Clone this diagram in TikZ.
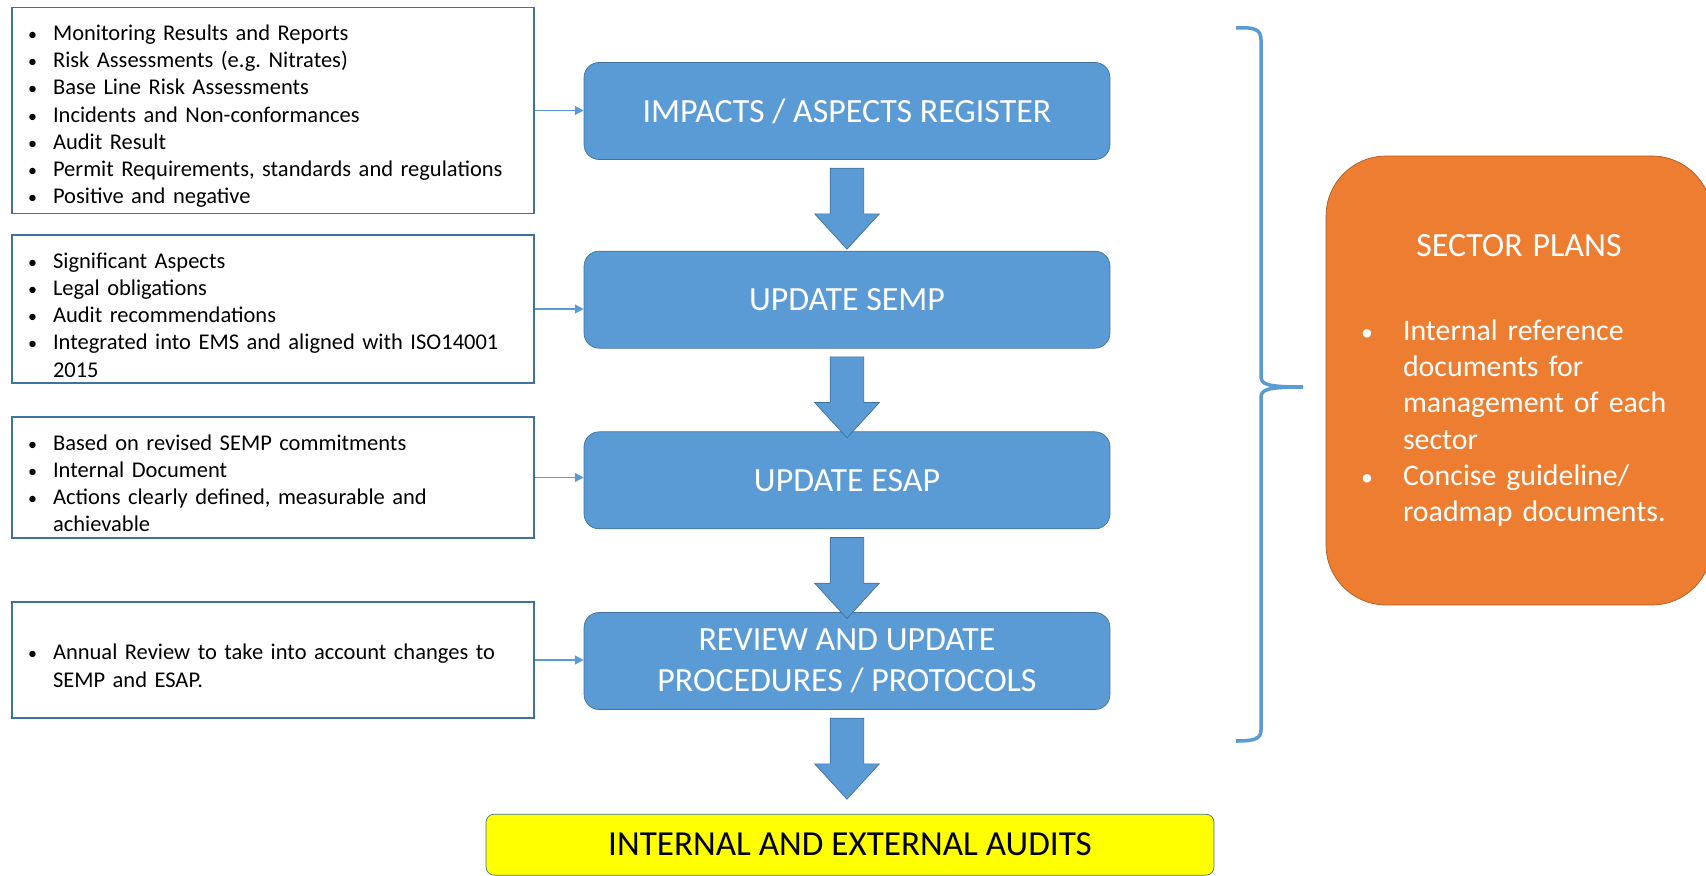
\documentclass[tikz,border=0pt]{standalone}
\usepackage{fontspec}
\setmainfont{Carlito}
\usepackage{tikz}
\usetikzlibrary{shapes.arrows,arrows.meta,positioning,calc}
\definecolor{semsBlue}{HTML}{5B9BD5}
\definecolor{semsBlueDark}{HTML}{41719C}
\definecolor{semsOrange}{HTML}{ED7D31}
\definecolor{semsOrangeDark}{HTML}{AE5A21}
\definecolor{semsYellow}{HTML}{FFFF00}
\newcommand{\itm}{\par\leftskip=0.5cm\noindent\llap{\makebox[0.5cm][l]{\scalebox{0.8}{\textbullet}}}}
\newcommand{\oitm}{\par\leftskip=0.84cm\noindent\llap{\makebox[0.84cm][l]{\scalebox{0.8}{\textbullet}}}}

\begin{document}
\begin{tikzpicture}[x=0.02cm, y=-0.02cm]
\tikzset{
  src/.style={rectangle, draw=semsBlueDark, line width=0.8pt, fill=white,
              text width=9.8cm, inner xsep=0.32cm, align=left, font=\fontsize{12.8}{15.5}\selectfont},
  stp/.style={rectangle, rounded corners=0.3cm, draw=semsBlueDark, fill=semsBlue, text=white,
              minimum width=10.52cm, minimum height=1.94cm, align=center, font=\fontsize{19.3}{23.3}\selectfont},
  aud/.style={rectangle, rounded corners=0.16cm, draw=semsBlueDark, fill=semsYellow,
              minimum width=14.56cm, minimum height=1.22cm, font=\fontsize{20}{24}\selectfont},
  sec/.style={rectangle, rounded corners=1.2cm, draw=semsOrangeDark, fill=semsOrange, text=white,
              minimum width=7.72cm, minimum height=8.98cm, text width=6.32cm, inner xsep=0.7cm,
              align=left, font=\fontsize{17}{20.6}\selectfont},
  lk/.style={-{Triangle[length=5pt,width=5pt]}, draw=semsBlue, line width=0.8pt},
  ba/.style={single arrow, draw=semsBlueDark, fill=semsBlue, minimum height=1.62cm,
             single arrow head extend=0.31cm, single arrow tip angle=85, inner xsep=0pt, inner ysep=0.33cm,
             rotate=-90, anchor=tail},
  brc/.style={draw=semsBlue, line width=2pt}
}
\useasboundingbox (0,0) rectangle (1706,875);

% Main steps
\node[stp] (imp) at (847,111) {IMPACTS / ASPECTS REGISTER};
\node[stp, below=1.82cm of imp] (semp) {UPDATE SEMP};
\node[stp, below=1.66cm of semp] (esap) {UPDATE ESAP};
\node[stp, below=1.66cm of esap] (rev) {REVIEW AND UPDATE\\PROCEDURES / PROTOCOLS};
\node[aud, below=2.08cm of rev, xshift=0.06cm] (audits) {INTERNAL AND EXTERNAL AUDITS};

% Inputs (left)
\node[src, minimum height=4.06cm] (in1) at (273,110.5)
 {\itm Monitoring Results and Reports
  \itm Risk Assessments (e.g.\ Nitrates)
  \itm Base Line Risk Assessments
  \itm Incidents and Non-conformances
  \itm Audit Result
  \itm Permit Requirements, standards and regulations
  \itm Positive and negative\par};
\node[src, minimum height=2.8cm] (in2) at (273,309)
 {\itm Significant Aspects
  \itm Legal obligations
  \itm Audit recommendations
  \itm Integrated into EMS and aligned with ISO14001\newline 2015\par};
\node[src, minimum height=2.3cm] (in3) at (273,477.5)
 {\itm Based on revised SEMP commitments
  \itm Internal Document
  \itm Actions clearly defined, measurable and\newline achievable\par};
\node[src, minimum height=2.32cm] (in4) at (273,660)
 {\itm Annual Review to take into account changes to\newline SEMP and ESAP.\par};

% Sector plans (right)
\node[sec] (plans) at (1519,380.5)
 {\vspace*{2pt}\noindent\makebox[\hsize][c]{\fontsize{19.3}{23}\selectfont SECTOR PLANS}\par\vspace{25pt}
  \oitm Internal reference\newline documents for\newline management of each\newline sector
  \oitm Concise guideline/\newline roadmap documents.\par};

% Block arrows
\node[ba] (a1) at ([yshift=-0.16cm]imp.south) {};
\node[ba] (a2) at ([yshift=-0.16cm]semp.south) {};
\node[ba] (a3) at ([yshift=-0.16cm]esap.south) {};
\node[ba] (a4) at ([yshift=-0.16cm]rev.south) {};

% Input links
\draw[lk] (in1.east) -- (in1.east -| imp.west);
\draw[lk] (in2.east) -- (in2.east -| semp.west);
\draw[lk] (in3.east) -- (in3.east -| esap.west);
\draw[lk] (in4.east) -- (in4.east -| rev.west);

% Brace
\draw[brc] (1236,28) .. controls (1254,27) and (1261,29) .. (1261,40) -- (1261,376)
  .. controls (1261,384) and (1265,387) .. (1303,387)
  .. controls (1265,387) and (1261,390) .. (1261,398) -- (1261,730)
  .. controls (1261,739) and (1254,741) .. (1236,741);
\end{tikzpicture}
\end{document}
